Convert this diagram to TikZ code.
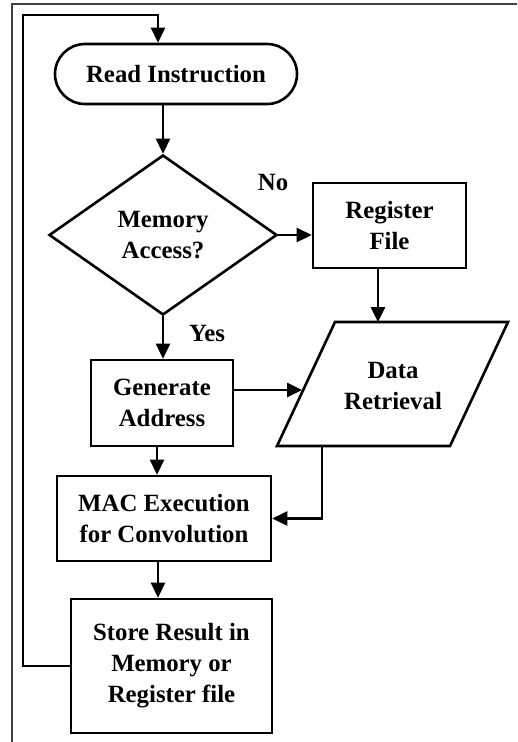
\documentclass[tikz,border=0pt]{standalone}
\usepackage{fontspec}
\setmainfont{Liberation Serif}
\usetikzlibrary{arrows.meta,shapes.geometric}
\begin{document}
\begin{tikzpicture}[x=1pt,y=-1pt,
  every node/.style={font=\bfseries\fontsize{24.8}{31}\selectfont,align=center,inner sep=0pt},
  box/.style={draw,line width=2.6pt,rectangle},
  link/.style={line width=2.6pt,-{Triangle[length=15pt,width=14pt]}}]
  \useasboundingbox (0,0) rectangle (517,742);
  % outer frame (top and left edges only)
  \draw[black!75,line width=1.3pt] (12,742) -- (12,4) -- (517,4);

  % flow steps
  \node[draw,line width=2.6pt,rectangle,rounded corners=30pt,minimum width=242pt,minimum height=60pt] (read) at (176,74) {Read Instruction};
  \node[draw,line width=2.6pt,diamond,aspect=1.425,minimum width=228pt,minimum height=160pt] (mem) at (163,235) {Memory\\Access?};
  \node[box,minimum width=153pt,minimum height=85pt] (reg) at (389.5,225.5) {Register\\File};
  \node[box,minimum width=142pt,minimum height=86pt] (gen) at (162,403) {Generate\\Address};
  \node[box,minimum width=214pt,minimum height=85pt] (mac) at (164,518.5) {MAC Execution\\for Convolution};
  \node[box,minimum width=201pt,minimum height=134pt] (store) at (171.5,666) {Store Result in\\Memory or\\Register file};

  % data retrieval (parallelogram)
  \coordinate (dA) at (277,446);
  \coordinate (dB) at (450,446);
  \coordinate (dC) at (508,322);
  \coordinate (dD) at (335,322);
  \draw[line width=2.6pt,line join=miter] (dA) -- (dB) -- (dC) -- (dD) -- cycle;
  \node (data) at (393,386) {Data\\Retrieval};
  \coordinate (dtop) at (378,322);
  \coordinate (dleft) at (302,390);
  \coordinate (dbot) at (322,446);

  % branch labels
  \node (no) at (273,182) {No};
  \node (yes) at (207,333) {Yes};

  % connectors
  \draw[link] (mem.north |- read.south) -- (mem.north);
  \draw[link] (mem.east) -- (mem.east -| reg.west);
  \draw[link] (reg.south -| dtop) -- (dtop);
  \draw[link] (mem.south) -- (mem.south |- gen.north);
  \draw[link] (gen.east |- dleft) -- (dleft);
  \draw[link] ([xshift=-5pt]gen.south) -- ([xshift=-5pt]gen.south |- mac.north);
  \draw[link] (dbot) |- (mac.east);
  \draw[link] ([xshift=-6pt]mac.south) -- ([xshift=-6pt]mac.south |- store.north);
  \coordinate (loopcorner) at (23,15);
  \draw[link,line join=miter] (store.west) -| (loopcorner) -| ([xshift=-18pt]read.north);
\end{tikzpicture}
\end{document}
